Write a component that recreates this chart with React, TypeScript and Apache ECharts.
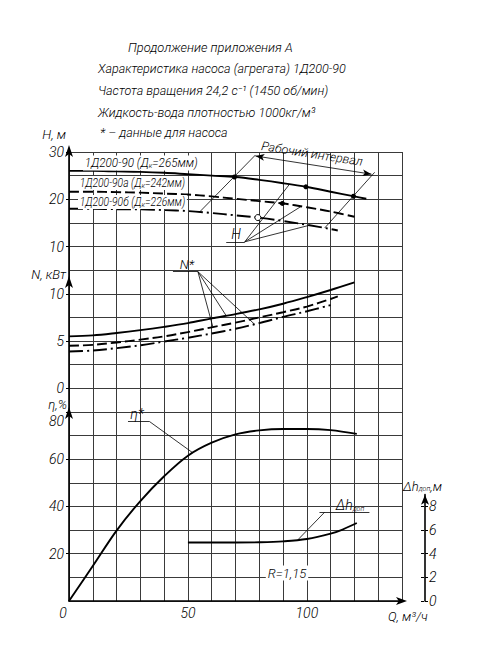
import React, { useEffect, useRef } from "react";
import * as echarts from "echarts";

const FONT = 'Roboto, "Liberation Sans", sans-serif';

// ---------------- Data ----------------
// Head H, m
const Q_H1 = [0, 10, 20, 30, 40, 50, 60, 70, 80, 90, 100, 110, 120, 125];
const H_1D200_90 = [26.0, 26.0, 25.9, 25.8, 25.6, 25.3, 25.0, 24.7, 24.1, 23.4, 22.6, 21.6, 20.6, 20.1];
const Q_H2 = [0, 10, 20, 30, 40, 50, 60, 70, 80, 90, 100, 110, 120];
const H_1D200_90A = [21.6, 21.6, 21.5, 21.4, 21.2, 21.0, 20.6, 20.1, 19.6, 19.1, 18.3, 17.4, 16.3];
const Q_H3 = [0, 10, 20, 30, 40, 50, 60, 70, 80, 90, 100, 110, 113];
const H_1D200_90B = [18.0, 18.0, 17.9, 17.9, 17.7, 17.5, 17.1, 16.6, 16.1, 15.4, 14.6, 13.7, 13.4];

// Power N, kW
const Q_N1 = [0, 10, 20, 30, 40, 50, 60, 70, 80, 90, 100, 110, 120];
const N_1D200_90 = [5.5, 5.6, 5.85, 6.15, 6.5, 6.9, 7.4, 7.85, 8.35, 8.95, 9.65, 10.4, 11.2];
const Q_N2 = [0, 10, 20, 30, 40, 50, 60, 70, 80, 90, 100, 110, 113];
const N_1D200_90A = [4.5, 4.6, 4.85, 5.15, 5.5, 5.95, 6.45, 6.95, 7.5, 8.05, 8.65, 9.45, 9.72];
const Q_N3 = [0, 10, 20, 30, 40, 50, 60, 70, 80, 90, 100, 110];
const N_1D200_90B = [3.9, 4.0, 4.25, 4.55, 4.95, 5.35, 5.8, 6.3, 6.9, 7.55, 8.15, 8.8];

// Efficiency eta, %
const Q_ETA = [0, 10, 20, 30, 40, 50, 60, 70, 80, 90, 100, 110, 121];
const ETA = [0, 14.8, 29.8, 42.3, 52.8, 61.5, 67, 70.5, 72.2, 72.8, 72.8, 72.3, 70.7];

// NPSH required dh, m
const Q_DH = [50, 60, 70, 80, 90, 100, 110, 115, 121];
const DH = [4.95, 4.95, 4.95, 4.97, 5.05, 5.25, 5.7, 6.05, 6.6];

// Tick labels
const Q_TICKS = [0, 50, 100];
const ETA_TICKS = [20, 40, 60, 80];
const N_TICKS = [0, 5, 10];
const H_TICKS = [10, 20, 30];
const DH_TICKS = [0, 2, 4, 6, 8];

// Annotations (data coordinates)
const WORK_LEFT = [54.9, 78.4, 29.37];   // bottom Q (on 90б), top Q, top H
const WORK_RIGHT = [107.5, 128.5, 25.7];
const WORK_ARROW = [[78.4, 29.16], [127.2, 25.3]];
const H1_DOTS = [69.6, 99.6, 119.6];
const H2_DOTS = [89.7];
const H3_RINGS = [79.4];
const H_NOTE = [66.1, 73.9, 11.0];       // underline from, to, H level
const H_LEADERS = [92.7, 97.6, 101.1];    // to curves 90, 90а, 90б
const N_NOTE = [43.7, 54.2, 12.34];
const N_LEADERS = [66.1, 60.5, 78.0];     // to curves N 90, 90а, 90б
const ETA_NOTE = [24.8, 33.9, 75.9, 52.1];
const DH_NOTE = [105.3, 126.3, 7.5, 107.4, 96.2];
const N_ARROW = 11.88;
const ETA_ARROW = 82.1;

const TITLE_LINES = [
  "Продолжение приложения А",
  "Характеристика насоса (агрегата) 1Д200-90",
  "Частота вращения 24,2 с⁻¹ (1450 об/мин)",
  "Жидкость-вода плотностью 1000кг/м³",
  "* – данные для насоса",
];

// ---------------- helpers ----------------
function interp(xs: number[], ys: number[], x: number): number {
  for (let i = 0; i < xs.length - 1; i++) {
    if (x >= xs[i] && x <= xs[i + 1]) {
      const t = (x - xs[i]) / (xs[i + 1] - xs[i]);
      return ys[i] + t * (ys[i + 1] - ys[i]);
    }
  }
  return ys[ys.length - 1];
}
const pairs = (xs: number[], ys: number[]) => xs.map((x, i) => [x, ys[i]]);
const seg = (a: number[], b: number[]) => [{ coord: a }, { coord: b }];

const LABEL = { color: "#000", fontFamily: FONT, fontStyle: "italic", fontWeight: 300, fontSize: 14 };
const DASH = [10, 4];
const DASHDOT = [14, 4, 2, 4];

function markLine(data: any[]) {
  return {
    silent: true,
    symbol: "none",
    label: { show: false },
    emphasis: { disabled: true },
    lineStyle: { color: "#000", width: 0.8, type: "solid" },
    data,
  };
}
function markPoint(data: any[]) {
  return { silent: true, label: { show: false }, emphasis: { disabled: true }, data };
}
function dot(q: number, v: number) {
  return { coord: [q, v], symbol: "circle", symbolSize: 5, itemStyle: { color: "#000" } };
}
function ring(q: number, v: number) {
  return {
    coord: [q, v], symbol: "circle", symbolSize: 6,
    itemStyle: { color: "#fff", borderColor: "#000", borderWidth: 1 },
  };
}
function axisArrow(v: number) {
  return { coord: [0, v], symbol: "arrow", symbolSize: [6, 12], itemStyle: { color: "#000" } };
}

function lineSeries(xs: number[], ys: number[], yIdx: number, type: any, extra: any = {}) {
  return {
    type: "line",
    xAxisIndex: 0,
    yAxisIndex: yIdx,
    data: pairs(xs, ys),
    smooth: 0.35,
    showSymbol: false,
    symbol: "none",
    silent: true,
    lineStyle: { color: "#000", width: 1.9, type },
    ...extra,
  };
}

const SUB = { fontSize: 8, fontFamily: FONT, fontStyle: "italic", fontWeight: 300, fill: "#000", color: "#000", verticalAlign: "bottom", padding: [4, 0, 0, 0] };

function txt(text: string, x: number, y: number, o: any = {}) {
  return {
    type: "text",
    x, y, z: 100, silent: true,
    rotation: o.rot || 0,
    scaleX: o.sx || 1,
    style: {
      text,
      fill: "#000",
      fontFamily: FONT,
      fontStyle: "italic",
      fontWeight: 300,
      fontSize: o.size || 13,
      align: o.align || "left",
      verticalAlign: "middle",
      backgroundColor: o.bg ? "#fff" : undefined,
      padding: o.bg ? [1, 2] : undefined,
      rich: { s: { ...SUB, fontSize: o.sub || 8 } },
    },
  };
}

// Layout
const GL = 69, GT = 152, GW = 333, GH = 449;
const DH_MAX = 9;
const DH_H = (DH_MAX * GH) / 38;

export default function App() {
  const ref = useRef<HTMLDivElement>(null);
  useEffect(() => {
    document.body.style.margin = "0";
    const chart = echarts.init(ref.current!, null, { renderer: "svg" });

    const h3 = (q: number) => interp(Q_H3, H_1D200_90B, q);

    const option: any = {
      animation: false,
      backgroundColor: "#fff",
      grid: [
        { left: GL, top: GT, width: GW, height: GH },
        { left: 424, top: GT + GH - DH_H, width: 1, height: DH_H },
      ],
      xAxis: [
        {
          type: "value", gridIndex: 0, min: 0, max: 140, interval: 10, position: "bottom",
          axisLine: {
            show: true, onZero: false, lineStyle: { color: "#000", width: 1.6 },
            symbol: ["none", "arrow"], symbolSize: [6, 11], symbolOffset: [0, 5],
          },
          axisTick: { show: false },
          axisLabel: {
            ...LABEL, margin: 5, customValues: Q_TICKS,
            formatter: (v: number) => (v === 0 ? "{o|0}" : String(v)),
            rich: { o: { ...LABEL, padding: [0, 12, 0, 0] } },
          },
          splitLine: { show: true, lineStyle: { color: "#3a3a3a", width: 1 } },
        },
        { type: "value", gridIndex: 1, min: 0, max: 1, show: false },
      ],
      yAxis: [
        {
          type: "value", gridIndex: 0, position: "left", min: 0, max: 19, interval: 1,
          axisLine: {
            show: true, onZero: false, lineStyle: { color: "#000", width: 1.6 },
            symbol: ["none", "arrow"], symbolSize: [6, 12], symbolOffset: [0, 7],
          },
          axisTick: { show: false },
          axisLabel: { show: false },
          splitLine: { show: true, lineStyle: { color: "#3a3a3a", width: 1 } },
        },
        {
          type: "value", gridIndex: 0, position: "left", min: 0, max: 190,
          axisLine: { show: false }, splitLine: { show: false },
          axisTick: { show: true, customValues: ETA_TICKS, length: 3, lineStyle: { color: "#000" } },
          axisLabel: {
            ...LABEL, customValues: ETA_TICKS, margin: 5,
            formatter: (v: number) => (v === 80 ? "{d|80}" : String(v)),
            rich: { d: { ...LABEL, padding: [18, 0, 0, 0] } },
          },
        },
        {
          type: "value", gridIndex: 0, position: "left", min: -22.5, max: 25,
          axisLine: { show: false }, splitLine: { show: false },
          axisTick: { show: true, customValues: N_TICKS, length: 3, lineStyle: { color: "#000" } },
          axisLabel: { ...LABEL, customValues: N_TICKS, margin: 5 },
        },
        {
          type: "value", gridIndex: 0, position: "left", min: -65, max: 30,
          axisLine: { show: false }, splitLine: { show: false },
          axisTick: { show: true, customValues: H_TICKS, length: 3, lineStyle: { color: "#000" } },
          axisLabel: { ...LABEL, customValues: H_TICKS, margin: 5 },
        },
        { type: "value", gridIndex: 0, position: "right", min: 0, max: 38, show: false },
        {
          type: "value", gridIndex: 1, position: "right", min: 0, max: DH_MAX,
          axisLine: {
            show: true, onZero: false, lineStyle: { color: "#000", width: 1.6 },
            symbol: ["none", "arrow"], symbolSize: [6, 10], symbolOffset: [0, 0],
          },
          splitLine: { show: false },
          axisTick: { show: true, customValues: DH_TICKS, length: 3, lineStyle: { color: "#000" } },
          axisLabel: { ...LABEL, customValues: DH_TICKS, margin: 4 },
        },
        {
          type: "value", gridIndex: 1, position: "right", min: 0, max: DH_MAX,
          axisLine: { show: false }, splitLine: { show: false }, axisLabel: { show: false },
          axisTick: { show: true, inside: true, customValues: DH_TICKS, length: 3, lineStyle: { color: "#000" } },
        },
      ],
      series: [
        lineSeries(Q_H1, H_1D200_90, 3, "solid", {
          markLine: markLine([
            seg([WORK_LEFT[0], h3(WORK_LEFT[0])], [WORK_LEFT[1], WORK_LEFT[2]]),
            seg([WORK_RIGHT[0], h3(WORK_RIGHT[0])], [WORK_RIGHT[1], WORK_RIGHT[2]]),
            [
              { coord: WORK_ARROW[0], symbol: "arrow", symbolSize: [5, 9] },
              { coord: WORK_ARROW[1], symbol: "arrow", symbolSize: [5, 9] },
            ],
            seg([H_NOTE[0], H_NOTE[2]], [H_NOTE[1], H_NOTE[2]]),
            seg([H_NOTE[1], H_NOTE[2]], [H_LEADERS[0], interp(Q_H1, H_1D200_90, H_LEADERS[0])]),
            seg([H_NOTE[1], H_NOTE[2]], [H_LEADERS[1], interp(Q_H2, H_1D200_90A, H_LEADERS[1])]),
            seg([H_NOTE[1], H_NOTE[2]], [H_LEADERS[2], h3(H_LEADERS[2])]),
          ]),
          markPoint: markPoint(H1_DOTS.map((q) => dot(q, interp(Q_H1, H_1D200_90, q)))),
        }),
        lineSeries(Q_H2, H_1D200_90A, 3, DASH, {
          markPoint: markPoint(H2_DOTS.map((q) => dot(q, interp(Q_H2, H_1D200_90A, q)))),
        }),
        lineSeries(Q_H3, H_1D200_90B, 3, DASHDOT, {
          markPoint: markPoint(H3_RINGS.map((q) => ring(q, h3(q)))),
        }),
        lineSeries(Q_N1, N_1D200_90, 2, "solid", {
          markLine: markLine([
            seg([N_NOTE[0], N_NOTE[2]], [N_NOTE[1], N_NOTE[2]]),
            seg([N_NOTE[1], N_NOTE[2]], [N_LEADERS[0], interp(Q_N1, N_1D200_90, N_LEADERS[0])]),
            seg([N_NOTE[1], N_NOTE[2]], [N_LEADERS[1], interp(Q_N2, N_1D200_90A, N_LEADERS[1])]),
            seg([N_NOTE[1], N_NOTE[2]], [N_LEADERS[2], interp(Q_N3, N_1D200_90B, N_LEADERS[2])]),
          ]),
          markPoint: markPoint([axisArrow(N_ARROW)]),
        }),
        lineSeries(Q_N2, N_1D200_90A, 2, DASH),
        lineSeries(Q_N3, N_1D200_90B, 2, DASHDOT),
        lineSeries(Q_ETA, ETA, 1, "solid", {
          markLine: markLine([
            seg([ETA_NOTE[0], ETA_NOTE[2]], [ETA_NOTE[1], ETA_NOTE[2]]),
            seg([ETA_NOTE[1], ETA_NOTE[2]], [ETA_NOTE[3], interp(Q_ETA, ETA, ETA_NOTE[3])]),
          ]),
          markPoint: markPoint([axisArrow(ETA_ARROW)]),
        }),
        lineSeries(Q_DH, DH, 4, "solid", {
          markLine: markLine([
            seg([DH_NOTE[0], DH_NOTE[2]], [DH_NOTE[1], DH_NOTE[2]]),
            seg([DH_NOTE[3], DH_NOTE[2]], [DH_NOTE[4], interp(Q_DH, DH, DH_NOTE[4])]),
          ]),
        }),
      ],
      graphic: [
        txt(TITLE_LINES[0], 128, 47, { size: 13.5, sx: 0.95 }),
        txt(TITLE_LINES[1], 98, 68, { size: 13.5, sx: 0.93 }),
        txt(TITLE_LINES[2], 98, 90, { size: 13.5, sx: 0.93 }),
        txt(TITLE_LINES[3], 98, 112, { size: 13.5, sx: 0.93 }),
        txt(TITLE_LINES[4], 100, 132, { size: 13.5, sx: 0.93 }),
        txt("H, м", 66, 134, { align: "right" }),
        txt("N, кВт", 66, 274, { align: "right" }),
        txt("η,%", 67, 404, { align: "right" }),
        txt("Q, м³/ч", 388, 616),
        txt("Δh{s|доп},м", 403, 486, { sub: 7 }),
        txt("1Д200-90 (Д{s|к}=265мм)", 83, 163, { bg: true, size: 13, sx: 0.9 }),
        txt("1Д200-90а (Д{s|к}=242мм)", 78, 183, { bg: true, size: 12, sx: 0.86 }),
        txt("1Д200-90б (Д{s|к}=226мм)", 78, 202, { bg: true, size: 12, sx: 0.86 }),
        txt("Рабочий интервал", 312, 153.5, { rot: (-9 * Math.PI) / 180, size: 12.5, align: "center" }),
        txt("H", 236, 234, { align: "center", size: 14 }),
        txt("N*", 187, 264, { align: "center", size: 13 }),
        txt("η*", 137, 414, { align: "center", size: 14 }),
        txt("Δh{s|доп}", 350, 505, { align: "center", size: 14, sub: 7 }),
        txt("R=1,15", 287, 573, { align: "center", size: 13, bg: true }),
      ],
    };

    chart.setOption(option);
    return () => chart.dispose();
  }, []);
  return <div ref={ref} style={{ width: 500, height: 650 }} />;
}
